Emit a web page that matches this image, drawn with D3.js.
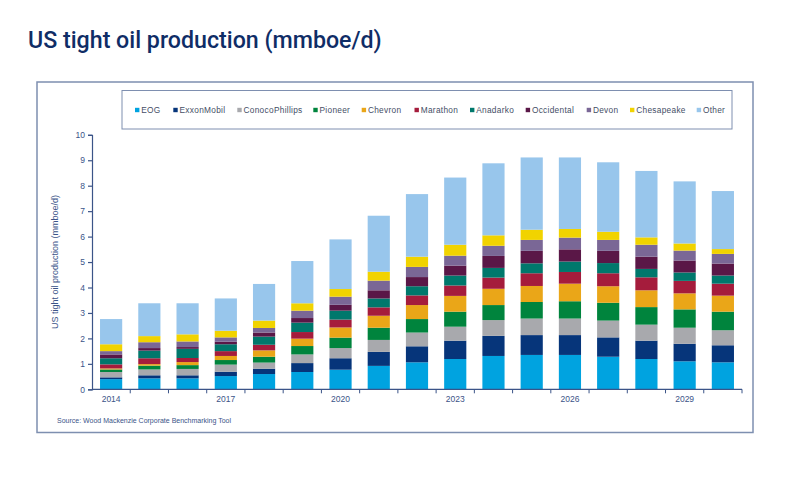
<!DOCTYPE html>
<html>
<head>
<meta charset="utf-8">
<script src="https://cdn.jsdelivr.net/npm/d3@7"></script>
<style>
    body { margin: 0; background: #fff; }
    text { font-family: "Liberation Sans", Arial, sans-serif; }
</style>
</head>
<body>
<div id="the_chart"></div>
<script>
var years = ["2014", "2015", "2016", "2017", "2018", "2019", "2020", "2021", "2022",
    "2023", "2024", "2025", "2026", "2027", "2028", "2029", "2030"];
var labelYears = ["2014", "2017", "2020", "2023", "2026", "2029"];
var companies = ["EOG", "ExxonMobil", "ConocoPhillips", "Pioneer", "Chevron", "Marathon",
    "Anadarko", "Occidental", "Devon", "Chesapeake", "Other"];
var colors = ["#00a3e0", "#06357a", "#a8a9ad", "#00843d", "#eaa618", "#a51c3c",
    "#00786c", "#5a1747", "#7a6796", "#f1d300", "#98c6ec"];

// mmboe/d per company, one value per year
var eog = [0.40, 0.43, 0.43, 0.52, 0.60, 0.68, 0.77, 0.92, 1.06, 1.19, 1.31, 1.35, 1.35, 1.28, 1.19, 1.10, 1.06];
var exxon = [0.07, 0.12, 0.12, 0.17, 0.21, 0.35, 0.45, 0.55, 0.63, 0.72, 0.79, 0.78, 0.78, 0.76, 0.72, 0.69, 0.67];
var conoco = [0.21, 0.23, 0.25, 0.28, 0.24, 0.34, 0.40, 0.47, 0.54, 0.55, 0.62, 0.65, 0.65, 0.66, 0.63, 0.63, 0.59];
var pioneer = [0.10, 0.15, 0.15, 0.18, 0.23, 0.33, 0.41, 0.48, 0.53, 0.59, 0.59, 0.65, 0.68, 0.70, 0.69, 0.72, 0.73];
var chevron = [0.04, 0.06, 0.12, 0.16, 0.25, 0.29, 0.40, 0.47, 0.55, 0.62, 0.64, 0.63, 0.69, 0.65, 0.66, 0.63, 0.63];
var marathon = [0.16, 0.23, 0.16, 0.19, 0.22, 0.26, 0.31, 0.33, 0.38, 0.41, 0.44, 0.50, 0.46, 0.51, 0.51, 0.49, 0.47];
var anadarko = [0.24, 0.30, 0.36, 0.27, 0.32, 0.37, 0.35, 0.35, 0.36, 0.39, 0.38, 0.39, 0.41, 0.40, 0.33, 0.33, 0.32];
var occidental = [0.15, 0.10, 0.07, 0.10, 0.16, 0.18, 0.23, 0.32, 0.36, 0.39, 0.47, 0.49, 0.48, 0.48, 0.48, 0.47, 0.47];
var devon = [0.13, 0.23, 0.22, 0.17, 0.18, 0.29, 0.32, 0.38, 0.40, 0.39, 0.40, 0.43, 0.46, 0.43, 0.47, 0.39, 0.38];
var chesapeake = [0.27, 0.24, 0.28, 0.26, 0.29, 0.29, 0.30, 0.35, 0.40, 0.43, 0.41, 0.40, 0.34, 0.32, 0.29, 0.28, 0.19];
var other = [0.99, 1.29, 1.22, 1.27, 1.44, 1.66, 1.95, 2.20, 2.46, 2.64, 2.83, 2.84, 2.81, 2.73, 2.61, 2.44, 2.28];

var series = [eog, exxon, conoco, pioneer, chevron, marathon, anadarko, occidental, devon, chesapeake, other];

var w = 800;
var h = 480;
var axisColor = "#3b5488";

var svg = d3.select("#the_chart")
    .append("svg")
    .attr("width", w)
    .attr("height", h);

// title
svg.append("text")
    .attr("x", 28)
    .attr("y", 48)
    .attr("fill", "#0f2d66")
    .style("font-family", "Roboto, 'Open Sans', sans-serif")
    .style("font-weight", "500")
    .style("font-size", "23.2px")
    .text("US tight oil production (mmboe/d)");

// outer frame
svg.append("rect")
    .attr("x", 37)
    .attr("y", 82)
    .attr("width", 716)
    .attr("height", 350.5)
    .attr("fill", "none")
    .attr("stroke", "#7e8fb0")
    .attr("stroke-width", 1.5);

// legend frame
svg.append("rect")
    .attr("x", 122)
    .attr("y", 90.5)
    .attr("width", 610)
    .attr("height", 38.5)
    .attr("fill", "none")
    .attr("stroke", "#7e8fb0")
    .attr("stroke-width", 1);

var legendX = [135, 173.3, 237.3, 313.3, 361.7, 414.5, 470, 525.7, 586.7, 630, 696.7];
var legend = svg.selectAll("g.leg")
    .data(companies)
    .enter().append("g")
    .attr("class", "leg")
    .attr("transform", function (d, i) {
        return "translate(" + legendX[i] + ",110)";
    });
legend.append("rect")
    .attr("x", 0)
    .attr("y", -2.2)
    .attr("width", 4.4)
    .attr("height", 4.4)
    .attr("fill", function (d, i) { return colors[i]; });
legend.append("text")
    .attr("x", 6.2)
    .attr("y", 3)
    .attr("fill", "#444e66")
    .style("font-size", "8.3px")
    .style("letter-spacing", "0.3px")
    .text(function (d) { return d; });

// scales
var xscale = d3.scaleBand()
    .domain(years)
    .range([92, 742])
    .paddingInner(0.42)
    .paddingOuter(0.21);

var yscale = d3.scaleLinear()
    .domain([0, 10])
    .range([389.3, 134.8]);

var table = years.map(function (y, j) {
    var row = { year: y };
    companies.forEach(function (c, i) { row[c] = series[i][j]; });
    return row;
});

var stacked = d3.stack().keys(companies)(table);

svg.append("g")
    .selectAll("g")
    .data(stacked)
    .enter().append("g")
    .attr("fill", function (d, i) { return colors[i]; })
    .selectAll("rect")
    .data(function (d) { return d; })
    .enter().append("rect")
    .attr("x", function (d) { return xscale(d.data.year); })
    .attr("y", function (d) { return yscale(d[1]); })
    .attr("width", xscale.bandwidth())
    .attr("height", function (d) { return yscale(d[0]) - yscale(d[1]); });

// y axis
var yaxis = d3.axisLeft()
    .scale(yscale)
    .ticks(10)
    .tickSizeOuter(0)
    .tickSize(4);

var gY = svg.append("g")
    .attr("transform", "translate(92,0)")
    .call(yaxis);
gY.selectAll("path, line").attr("stroke", axisColor).attr("stroke-width", 1.2);
gY.selectAll("text")
    .attr("fill", axisColor)
    .style("font-size", "8.5px")
    .attr("x", -7);

// x axis: ticks between the bars, labels every third year
var xaxisLine = svg.append("g");
xaxisLine.append("line")
    .attr("x1", 92)
    .attr("x2", 742)
    .attr("y1", yscale(0))
    .attr("y2", yscale(0))
    .attr("stroke", axisColor)
    .attr("stroke-width", 1.2);
xaxisLine.selectAll("line.tk")
    .data(years)
    .enter().append("line")
    .attr("class", "tk")
    .attr("x1", function (d) { return xscale(d) + xscale.bandwidth() + xscale.step() * 0.21; })
    .attr("x2", function (d) { return xscale(d) + xscale.bandwidth() + xscale.step() * 0.21; })
    .attr("y1", yscale(0))
    .attr("y2", yscale(0) + 4)
    .attr("stroke", axisColor)
    .attr("stroke-width", 1);
xaxisLine.selectAll("text")
    .data(labelYears)
    .enter().append("text")
    .attr("x", function (d) { return xscale(d) + xscale.bandwidth() / 2; })
    .attr("y", 402)
    .attr("text-anchor", "middle")
    .attr("fill", axisColor)
    .style("font-size", "8.5px")
    .text(function (d) { return d; });

// y axis title
svg.append("text")
    .attr("transform", "translate(58,262) rotate(-90)")
    .attr("text-anchor", "middle")
    .attr("fill", axisColor)
    .style("font-size", "9px")
    .text("US tight oil production (mmboe/d)");

// source
svg.append("text")
    .attr("x", 57)
    .attr("y", 423)
    .attr("fill", axisColor)
    .style("font-size", "7px")
    .text("Source: Wood Mackenzie Corporate Benchmarking Tool");
</script>
</body>
</html>
